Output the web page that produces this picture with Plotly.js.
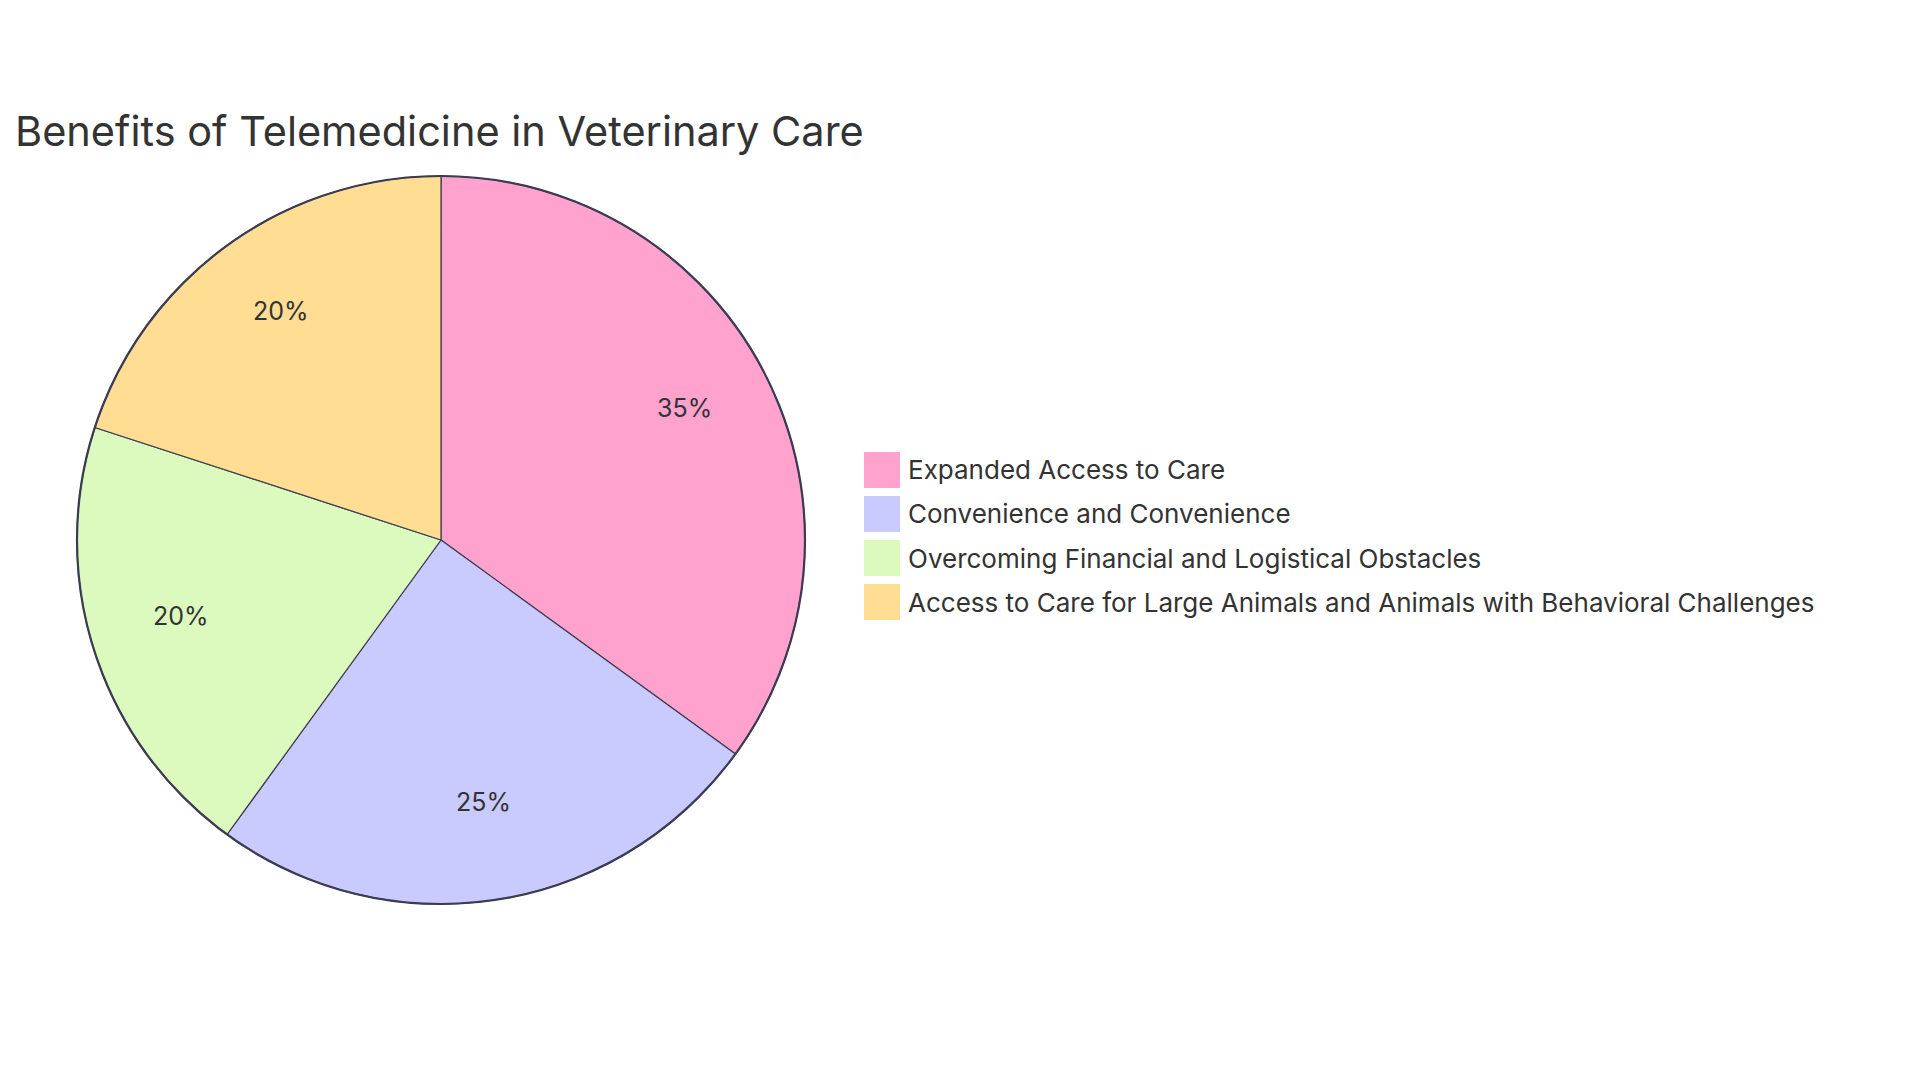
<!DOCTYPE html>
<html>
<head>
<meta charset="utf-8">
<script src="https://cdn.plot.ly/plotly-3.0.1.min.js"></script>
<style>html,body{margin:0;padding:0;background:#fff;}#chart{width:1920px;height:1080px;}</style>
</head>
<body>
<div id="chart"></div>
<script>
const chartTitle = "Benefits of Telemedicine in Veterinary Care";
const categories = [
  "Expanded Access to Care",
  "Convenience and Convenience",
  "Overcoming Financial and Logistical Obstacles",
  "Access to Care for Large Animals and Animals with Behavioral Challenges"
];
const values = [35, 25, 20, 20];
const colors = ["#FFA2CD", "#C9CBFF", "#DCFABE", "#FFDD93"];

const W = 1920, H = 1080;
const cx = 441, cy = 540, R = 364;
const FONT = "Inter, 'Open Sans', sans-serif";
const TXT = "#333333";
const STROKE = "#3b3b52";

const shapes = [];
const annotations = [];

// outer ring
shapes.push({type: "circle", xref: "paper", yref: "paper",
  x0: (cx - R) / W, x1: (cx + R) / W, y0: 1 - (cy + R) / H, y1: 1 - (cy - R) / H,
  line: {color: STROKE, width: 2.2}, fillcolor: "rgba(0,0,0,0)"});

// slice labels at 0.75 of the radius, mid-angle of each slice
const total = values.reduce((a, b) => a + b, 0);
let cum = 0;
values.forEach((v, i) => {
  const mid = (cum + v / 2) / total * 2 * Math.PI;
  cum += v;
  const px = cx + 0.75 * R * Math.sin(mid);
  const py = cy - 0.75 * R * Math.cos(mid);
  annotations.push({xref: "paper", yref: "paper", x: px / W, y: 1 - py / H,
    xanchor: "center", yanchor: "middle", showarrow: false, yshift: 8,
    text: Math.round(v / total * 100) + "%",
    font: {family: FONT, size: 25, color: TXT}});
});

// custom legend
const legX = 864, legY0 = 470, legStep = 44, sw = 36;
categories.forEach((c, i) => {
  const yc = legY0 + i * legStep;
  shapes.push({type: "rect", xref: "paper", yref: "paper",
    x0: legX / W, x1: (legX + sw) / W, y0: 1 - (yc + sw / 2) / H, y1: 1 - (yc - sw / 2) / H,
    fillcolor: colors[i], line: {width: 0}});
  annotations.push({xref: "paper", yref: "paper", x: (legX + sw + 6) / W, y: 1 - yc / H,
    xanchor: "left", yanchor: "middle", showarrow: false, text: c,
    font: {family: FONT, size: 26, color: TXT}});
});

const trace = {
  type: "pie",
  labels: categories,
  values: values,
  sort: false,
  direction: "clockwise",
  rotation: 0,
  marker: {colors: colors, line: {color: STROKE, width: 1.2}},
  textinfo: "none",
  hoverinfo: "label+percent",
  showlegend: false,
  domain: {x: [(cx - R) / W, (cx + R) / W], y: [1 - (cy + R) / H, 1 - (cy - R) / H]}
};

const layout = {
  width: W, height: H,
  margin: {l: 0, r: 0, t: 0, b: 0},
  paper_bgcolor: "#ffffff",
  showlegend: false,
  title: {text: chartTitle, x: 15 / W, xanchor: "left", y: 1 - 131 / H, yanchor: "middle",
    xref: "paper", yref: "container",
    font: {family: FONT, size: 41.5, color: TXT}},
  shapes: shapes,
  annotations: annotations
};

Plotly.newPlot("chart", [trace], layout, {displayModeBar: false, staticPlot: true});
</script>
</body>
</html>
